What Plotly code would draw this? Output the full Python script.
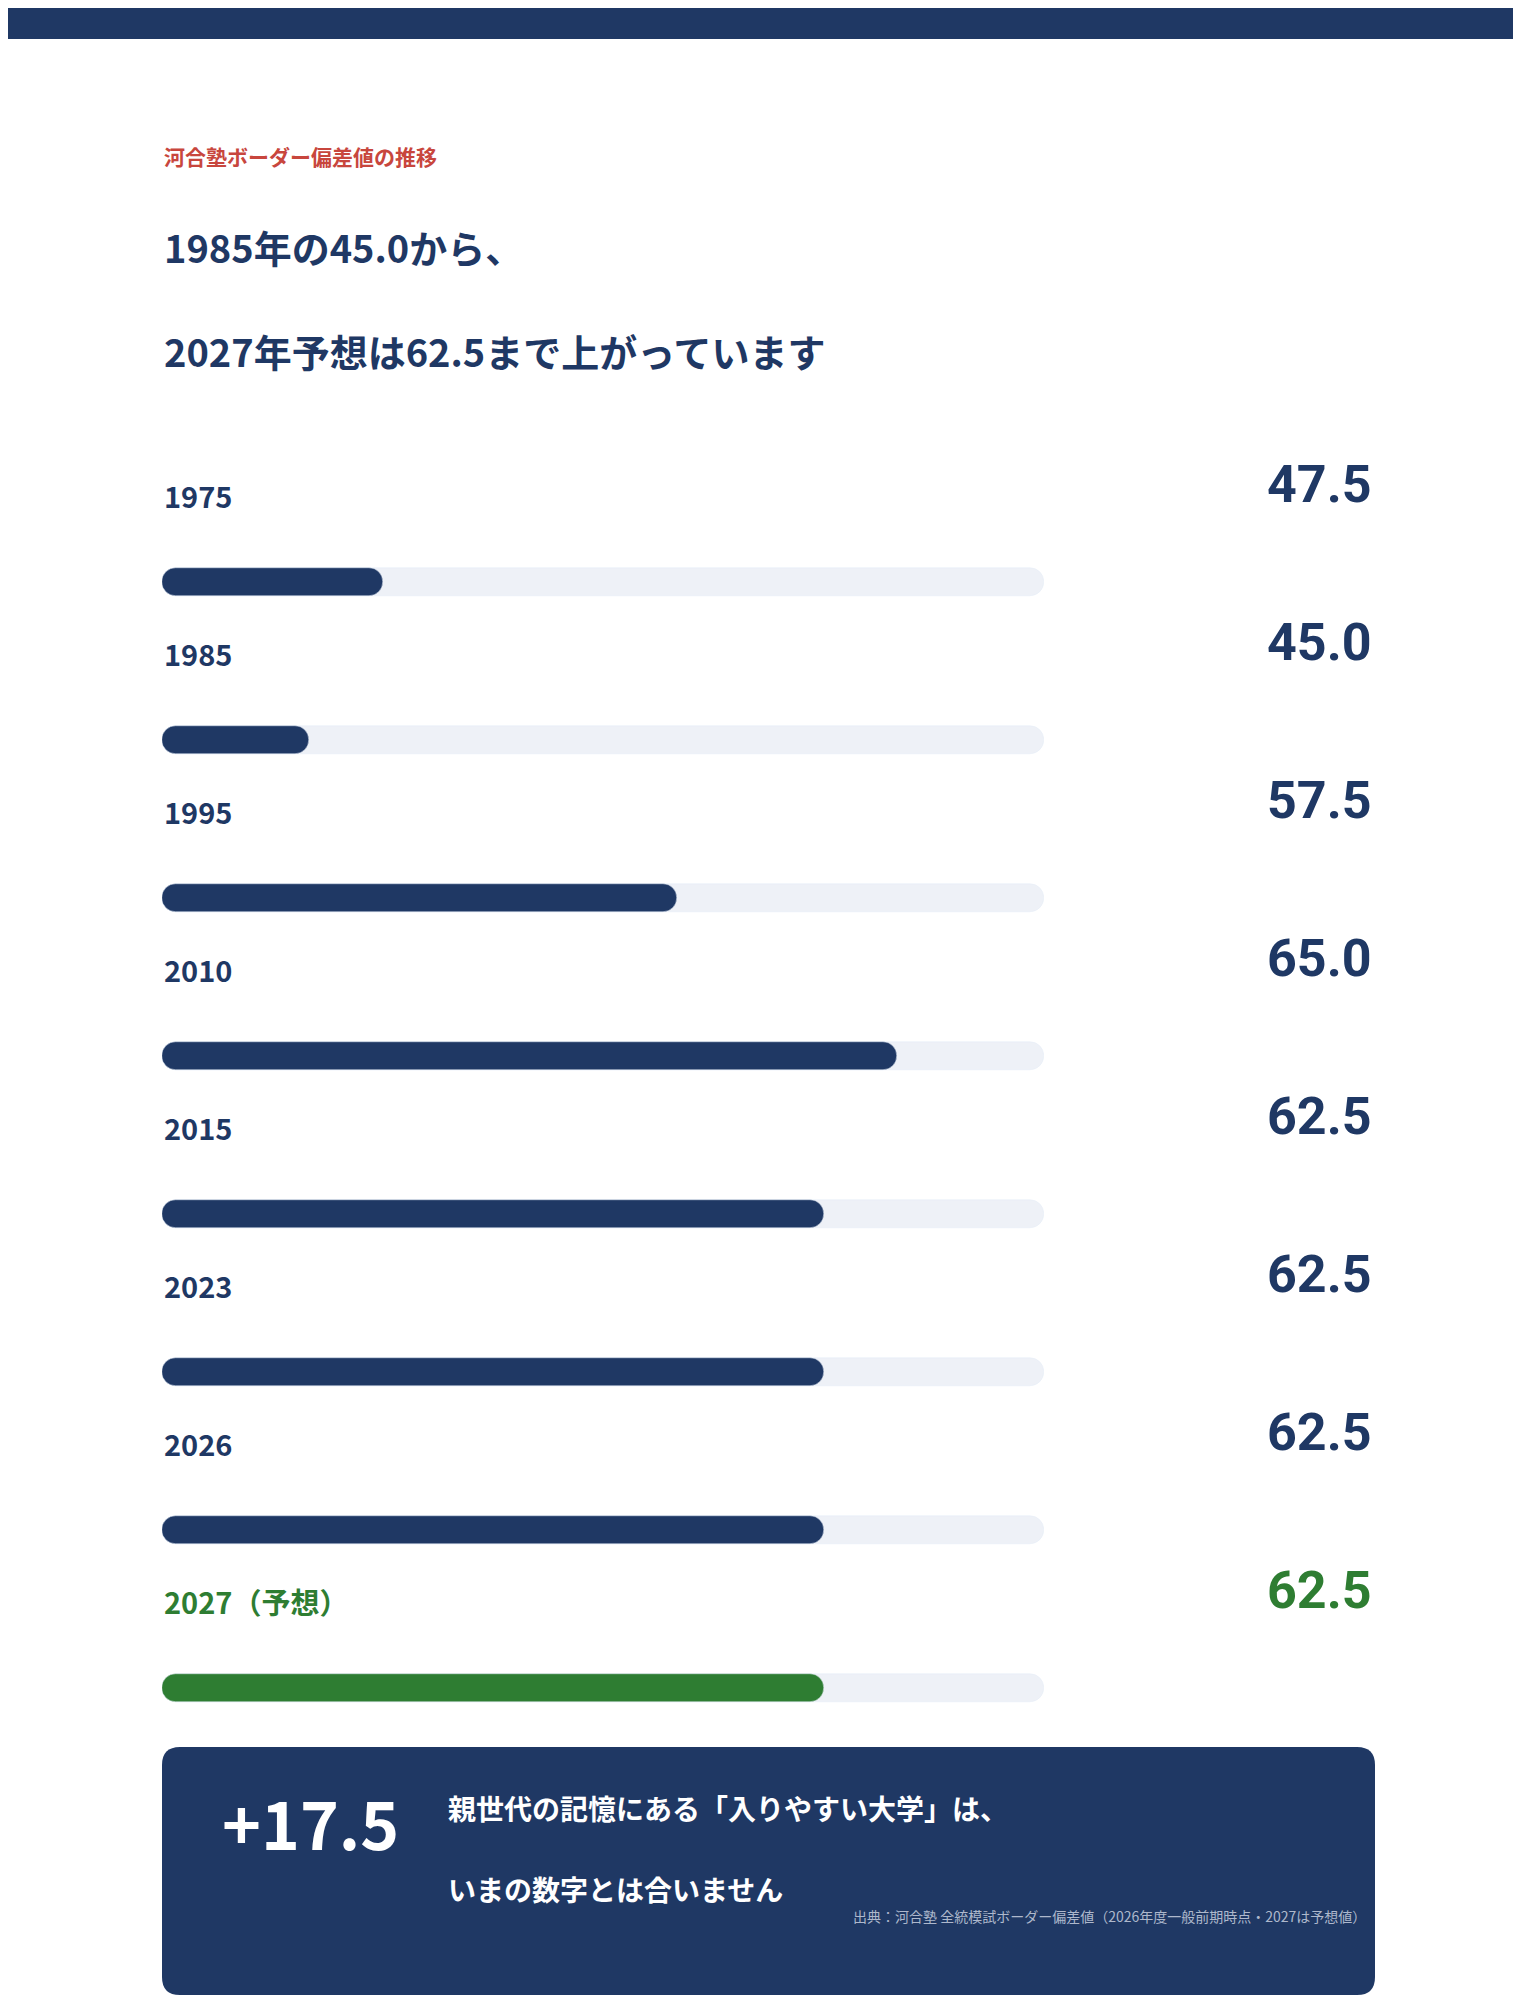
import plotly.graph_objects as go

W, H = 1521, 2000
NAVY = "#1F3864"
GREEN = "#2E7D32"
TRACK = "#EEF1F7"
RED = "#C8463D"
FONT = "Noto Sans CJK JP"

years = ["1975", "1985", "1995", "2010", "2015", "2023", "2026", "2027（予想）"]
scores = [47.5, 45.0, 57.5, 65.0, 62.5, 62.5, 62.5, 62.5]
value_labels = ["47.5", "45.0", "57.5", "65.0", "62.5", "62.5", "62.5", "62.5"]
axis_min, axis_max = 40, 70
colors = [NAVY] * 7 + [GREEN]
idx = list(range(len(years)))


def px(x, y):
    return x / W, 1 - y / H


fig = go.Figure()
# background tracks
fig.add_trace(go.Bar(y=idx, x=[axis_max - axis_min] * len(idx), base=axis_min,
                     orientation="h", marker=dict(color=TRACK), width=0.18,
                     hoverinfo="skip", showlegend=False))
# value bars
fig.add_trace(go.Bar(y=idx, x=[s - axis_min for s in scores], base=axis_min,
                     orientation="h", marker=dict(color=colors), width=0.18,
                     customdata=scores, hovertemplate="%{customdata}<extra></extra>",
                     showlegend=False))

ann = []
for i, (yr, v, c) in enumerate(zip(years, value_labels, colors)):
    ann.append(dict(x=154 / W, xref="paper", y=i - 0.55, yref="y", text=f"<b>{yr}</b>",
                    showarrow=False, xanchor="left", yanchor="middle",
                    font=dict(size=29, color=c, family=FONT)))
    ann.append(dict(x=1366 / W, xref="paper", y=i - 0.62, yref="y", text=f"<b>{v}</b>",
                    showarrow=False, xanchor="right", yanchor="middle",
                    font=dict(size=52, color=c, family="Roboto")))


def text(x, y, s, size, color, anchor="left"):
    xx, yy = px(x, y)
    ann.append(dict(x=xx, y=yy, xref="paper", yref="paper", text=s, showarrow=False,
                    xanchor=anchor, yanchor="middle", font=dict(size=size, color=color, family=FONT)))


text(154, 148, "<b>河合塾ボーダー偏差値の推移</b>", 21, RED)
text(154, 239, "<b>1985年の45.0から、</b>", 38, NAVY)
text(154, 342, "<b>2027年予想は62.5まで上がっています</b>", 38, NAVY)
text(212, 1813, "<b>+17.5</b>", 66, "white")
text(438, 1800, "<b>親世代の記憶にある「入りやすい大学」は、</b>", 28, "white")
text(438, 1881, "<b>いまの数字とは合いません</b>", 28, "white")
text(1360, 1908, "出典：河合塾 全統模試ボーダー偏差値（2026年度一般前期時点・2027は予想値）", 14, "#AEB8CC", "right")

# rounded box
x0, x1, y0, y1, r = 154, 1367, 1739, 1987, 18
def P(x, y):
    a, b = px(x, y)
    return f"{a:.5f},{b:.5f}"
path = (f"M {P(x0 + r, y0)} L {P(x1 - r, y0)} Q {P(x1, y0)} {P(x1, y0 + r)} "
        f"L {P(x1, y1 - r)} Q {P(x1, y1)} {P(x1 - r, y1)} L {P(x0 + r, y1)} "
        f"Q {P(x0, y1)} {P(x0, y1 - r)} L {P(x0, y0 + r)} Q {P(x0, y0)} {P(x0 + r, y0)} Z")

shapes = [
    dict(type="rect", xref="paper", yref="paper", x0=0, x1=1, y0=1 - 31 / H, y1=1,
         fillcolor=NAVY, line_width=0, layer="below"),
    dict(type="path", xref="paper", yref="paper", path=path, fillcolor=NAVY,
         line_width=0, layer="below"),
]

fig.update_layout(
    width=W, height=H, margin=dict(l=0, r=0, t=0, b=0),
    plot_bgcolor="white", paper_bgcolor="white",
    barmode="overlay", barcornerradius="50%", bargap=0,
    xaxis=dict(range=[axis_min, axis_max], domain=[154 / W, 1036 / W], visible=False, fixedrange=True),
    yaxis=dict(range=[(H - 574) / 158, -574 / 158], domain=[0, 1], visible=False, fixedrange=True),
    annotations=ann, shapes=shapes,
)

fig.write_html("out.html")
